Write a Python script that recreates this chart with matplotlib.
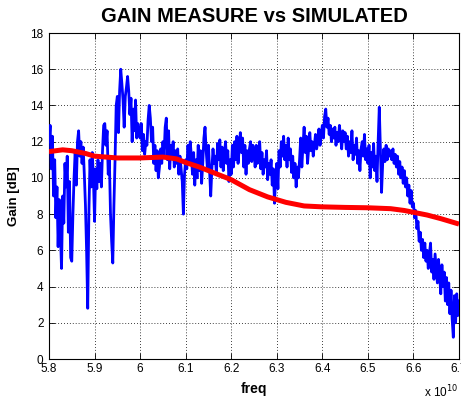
import numpy as np
import matplotlib
matplotlib.use("Agg")
import matplotlib.pyplot as plt
from matplotlib.ticker import FixedLocator, FuncFormatter

# ---------------- data ----------------
# measured gain, sampled every 0.0025 (x1e10 Hz) from 5.80 to 6.70
meas_start = 5.80
meas_step = 0.0025
measured_gain = [
    # 5.80 - 5.85
    12.0, 12.9, 10.5, 12.3, 9.0, 11.0, 7.8, 9.5, 6.2, 8.8, 7.0, 5.0, 9.0, 7.5, 10.8, 9.5, 11.2, 7.0, 9.8, 5.6,
    # 5.85 - 5.90
    5.4, 8.0, 10.0, 11.5, 9.6, 12.0, 12.6, 11.2, 12.0, 10.8, 11.7, 10.2, 8.5, 6.0, 2.8, 8.0, 11.0, 9.5, 11.4, 10.0,
    # 5.90 - 5.95
    7.6, 10.5, 9.4, 11.0, 9.8, 10.8, 9.5, 11.5, 12.9, 13.0, 11.8, 12.6, 10.2, 11.0, 8.0, 6.5, 5.3, 8.5, 11.0, 14.0,
    # 5.95 - 6.00
    14.5, 12.5, 14.8, 16.0, 15.2, 14.3, 12.8, 14.5, 15.0, 15.6, 14.8, 13.5, 14.4, 12.0, 13.8, 12.6, 14.3, 12.2, 13.0, 12.5,
    # 6.00 - 6.05
    12.2, 13.0, 11.5, 12.4, 11.3, 12.0, 11.8, 13.2, 14.0, 13.3, 12.0, 12.8, 10.8, 11.8, 10.4, 11.5, 10.0, 10.6, 11.6, 10.8,
    # 6.05 - 6.10
    12.0, 11.2, 12.8, 13.3, 11.0, 12.6, 10.5, 11.8, 11.2, 12.0, 10.6, 11.5, 10.8, 11.6, 10.2, 11.2, 10.5, 9.8, 8.0, 10.2,
    # 6.10 - 6.15
    11.0, 10.5, 11.8, 10.8, 12.0, 11.2, 10.2, 11.4, 9.6, 11.0, 10.0, 11.8, 10.4, 11.5, 9.7, 10.8, 12.2, 12.8, 11.5, 10.6,
    # 6.15 - 6.20
    11.8, 10.4, 9.0, 10.5, 11.6, 10.8, 11.2, 10.2, 11.9, 11.0, 12.1, 10.6, 11.7, 10.4, 11.3, 12.0, 10.8, 11.5, 9.8, 11.0,
    # 6.20 - 6.25
    10.2, 11.8, 10.6, 12.0, 11.0, 12.3, 10.8, 11.6, 12.5, 11.4, 12.2, 10.6, 11.8, 10.2, 11.5, 10.8, 11.6, 12.0, 10.9, 11.8,
    # 6.25 - 6.30
    11.5, 10.6, 11.8, 10.8, 11.2, 12.0, 10.5, 11.4, 10.2, 11.0, 10.6, 11.5, 9.9, 10.8, 10.2, 11.0, 9.6, 10.5, 8.6, 10.0,
    # 6.30 - 6.35
    10.8, 9.4, 11.5, 10.6, 12.0, 11.2, 12.3, 11.0, 11.8, 10.6, 12.2, 11.0, 11.6, 10.3, 11.2, 10.0, 10.8, 9.5, 10.6, 10.0,
    # 6.35 - 6.40
    11.0, 12.2, 10.6, 11.8, 12.8, 11.4, 12.3, 10.8, 11.6, 12.5, 11.5, 12.0, 11.2, 11.8, 12.4, 11.6, 12.0, 12.7, 11.8, 12.4,
    # 6.40 - 6.45
    12.9, 12.2, 13.4, 13.8, 12.8, 13.3, 12.4, 12.9, 12.0, 12.7, 12.2, 12.8, 11.8, 12.5, 12.0, 12.9, 12.3, 11.6, 12.6, 12.0,
    # 6.45 - 6.50
    12.5, 11.6, 12.3, 11.2, 12.0, 11.4, 12.6, 11.0, 11.8, 11.3, 12.2, 10.8, 11.5, 10.4, 11.6, 12.0, 11.2, 12.4, 11.0, 11.6,
    # 6.50 - 6.55
    10.8, 11.8, 10.0, 11.4, 10.6, 11.9, 10.4, 11.2, 9.8, 12.0, 13.9, 11.5, 9.2, 10.8, 11.6, 10.9, 11.8, 11.0, 11.6, 11.2,
    # 6.55 - 6.60
    11.5, 11.0, 11.6, 10.8, 11.3, 10.6, 11.2, 10.2, 10.9, 10.0, 10.6, 9.7, 10.4, 9.5, 10.0, 9.0, 9.6, 8.6, 9.3, 8.4,
    # 6.60 - 6.65
    8.6, 7.8, 8.2, 7.2, 7.6, 6.5, 7.0, 6.0, 6.6, 5.6, 6.4, 5.4, 6.0, 5.0, 5.8, 6.4, 4.8, 5.5, 4.4, 5.8,
    # 6.65 - 6.70
    5.0, 4.2, 5.5, 4.6, 3.6, 5.2, 4.0, 4.8, 3.2, 4.5, 3.0, 4.2, 2.5, 3.8, 2.2, 1.2, 3.5, 2.0, 3.6, 2.4,
    3.2,
]

# simulated gain (x1e10 Hz, dB)
sim_freq = [5.80, 5.83, 5.85, 5.88, 5.90, 5.95, 6.00, 6.05, 6.08, 6.10, 6.13, 6.16, 6.20,
            6.24, 6.28, 6.32, 6.36, 6.40, 6.45, 6.50, 6.55, 6.58, 6.60, 6.63, 6.66, 6.70]
sim_gain = [11.45, 11.55, 11.5, 11.35, 11.2, 11.1, 11.1, 11.15, 11.05, 10.85, 10.6, 10.3, 9.9,
            9.35, 8.95, 8.65, 8.45, 8.4, 8.37, 8.35, 8.3, 8.2, 8.1, 7.95, 7.75, 7.45]

x_ticks = [5.8, 5.9, 6.0, 6.1, 6.2, 6.3, 6.4, 6.5, 6.6, 6.7]
y_ticks = [0, 2, 4, 6, 8, 10, 12, 14, 16, 18]

# ---------------- plot ----------------
plt.rcParams['font.family'] = ['Liberation Sans', 'DejaVu Sans']

fig = plt.figure(figsize=(4.61, 3.99), dpi=100)
ax = fig.add_axes([49 / 461, 1 - 359 / 399, 410 / 461, 326 / 399])

meas_freq = meas_start + meas_step * np.arange(len(measured_gain))
ax.plot(meas_freq, measured_gain, color='#0000ff', lw=2.0, zorder=3)
ax.plot(sim_freq, sim_gain, color='#ff0000', lw=3.6, zorder=4, solid_capstyle='butt')

ax.set_xlim(5.8, 6.7)
ax.set_ylim(0, 18)
ax.xaxis.set_major_locator(FixedLocator(x_ticks))
ax.yaxis.set_major_locator(FixedLocator(y_ticks))
ax.xaxis.set_major_formatter(FuncFormatter(lambda v, p: f"{v:g}"))
ax.yaxis.set_major_formatter(FuncFormatter(lambda v, p: f"{v:g}"))
ax.tick_params(direction='in', length=4, width=0.6, labelsize=8.5, pad=3,
               top=True, right=True, colors='black')
ax.tick_params(axis='y', pad=4)
ax.grid(True, color='black', linestyle=(0, (1, 2.5)), linewidth=0.6)
for s in ax.spines.values():
    s.set_linewidth(0.8)

ax.set_title('GAIN MEASURE vs SIMULATED', fontsize=14.5, fontweight='bold', pad=8)
ax.set_xlabel('freq', fontsize=10, fontweight='bold', labelpad=5)
ax.set_ylabel('Gain [dB]', fontsize=9.5, fontweight='bold', labelpad=7)

fig.text(441 / 461, 1 - 392 / 399, r'x 10$^{10}$', fontsize=8.5, ha='center', va='center')

fig.savefig('out.png', dpi=100)
